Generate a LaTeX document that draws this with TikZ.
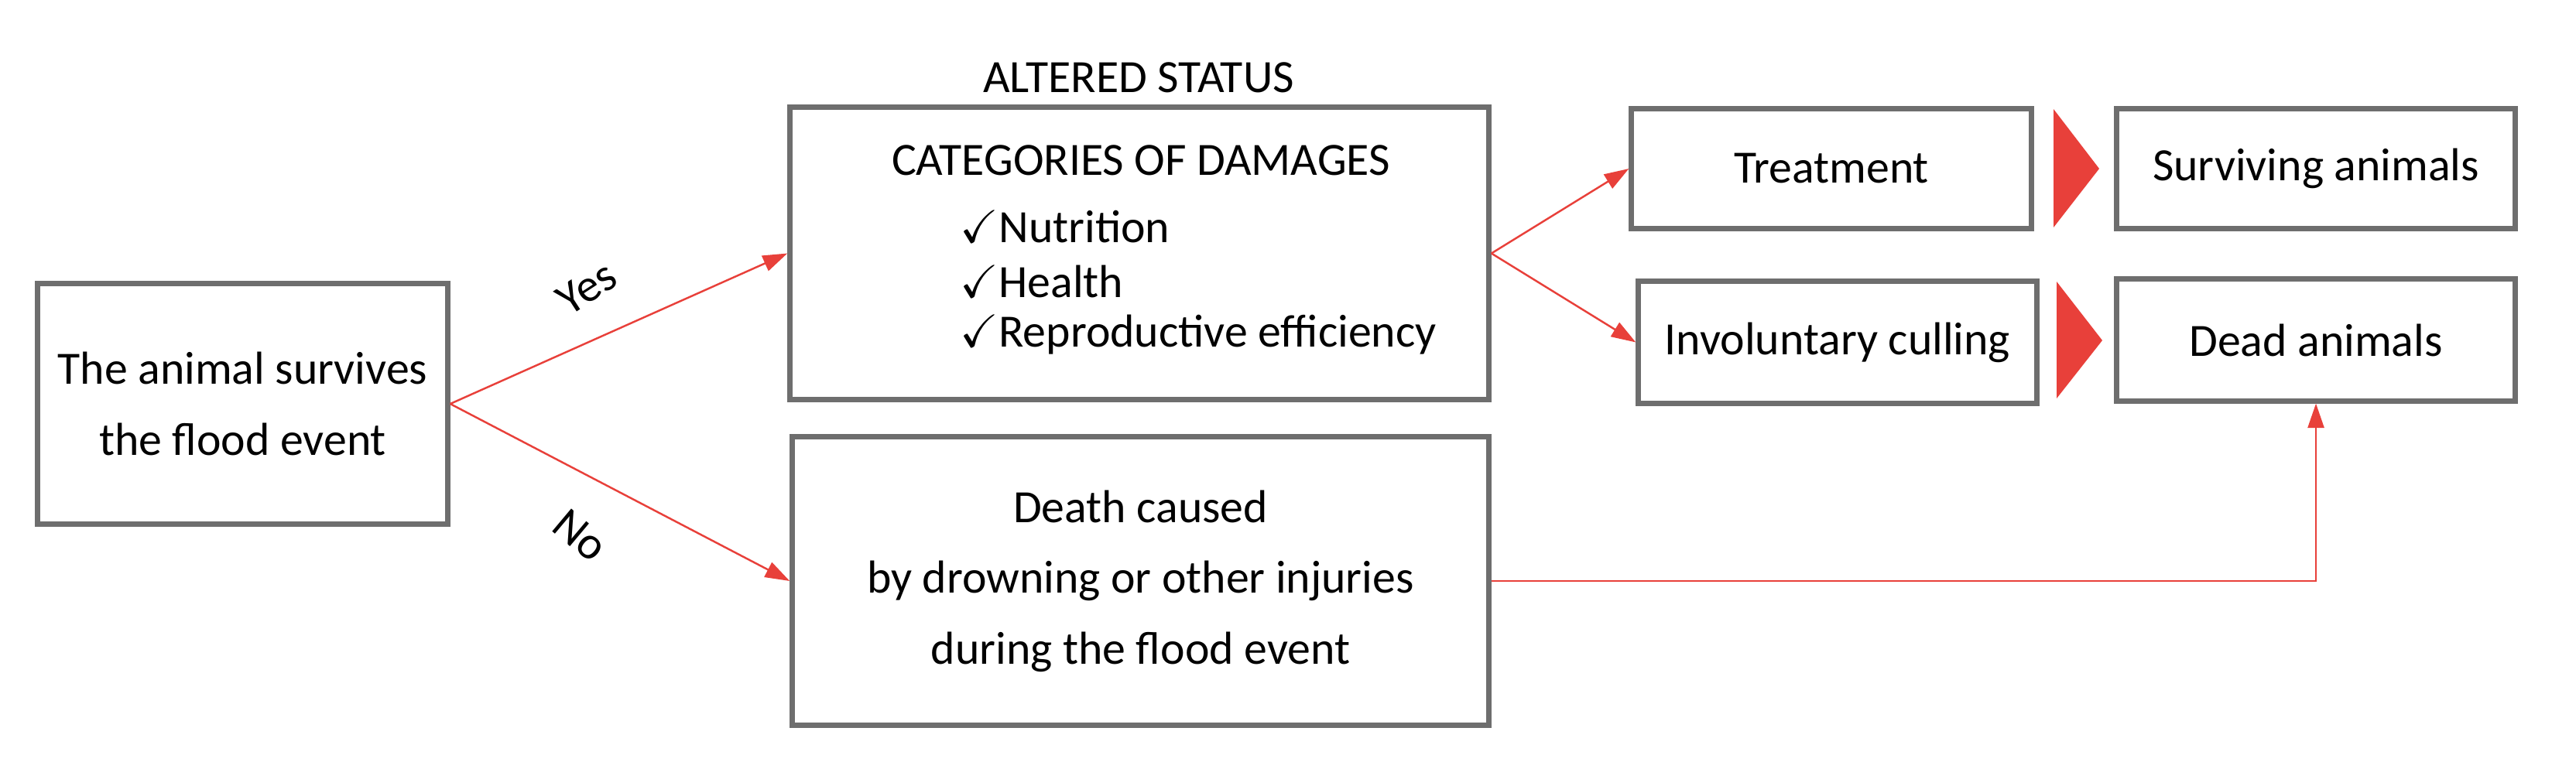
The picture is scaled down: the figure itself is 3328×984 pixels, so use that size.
\documentclass[tikz,border=0pt]{standalone}
\usepackage{fontspec}
\setmainfont{Carlito}
\usepackage{amssymb}
\usetikzlibrary{arrows.meta}
\definecolor{boxgray}{HTML}{6E6E6E}
\definecolor{ared}{HTML}{E8403A}
\begin{document}
\begin{tikzpicture}[x=0.01cm,y=-0.01cm,
  box/.style={draw=boxgray,line width=2pt,fill=white,inner sep=0pt,align=center,font=\fontsize{17}{26}\selectfont},
  txt/.style={font=\fontsize{17}{26}\selectfont,inner sep=0pt},
  arr/.style={draw=ared,line width=0.7pt,-{Triangle[length=9pt,width=6pt]}}]
\useasboundingbox (0,0) rectangle (3328,984);
\node[box,minimum width=5.29cm,minimum height=3.10cm] (left) at (313.5,522) {The animal survives\\the flood event};
\node[box,minimum width=9.02cm,minimum height=3.77cm] (alt) at (1472,327.5) {};
\node[box,minimum width=8.99cm,minimum height=3.72cm] (death) at (1473.5,751) {Death caused\\by drowning or other injuries\\during the flood event};
\node[box,minimum width=5.16cm,minimum height=1.54cm] (treat) at (2366,218) {Treatment};
\node[box,minimum width=5.14cm,minimum height=1.57cm] (cull) at (2374,442.5) {Involuntary culling};
\node[box,minimum width=5.14cm,minimum height=1.54cm] (surv) at (2992,218) {Surviving animals};
\node[box,minimum width=5.14cm,minimum height=1.57cm] (dead) at (2992,439.5) {Dead animals};
\node[txt] (title) at (1471,100) {ALTERED STATUS};
\node[txt] (cat) at (1474,207) {CATEGORIES OF DAMAGES};
\node[txt,anchor=west] (n1) at (1240,293) {$\checkmark$Nutrition};
\node[txt,anchor=west] (n2) at (1240,364) {$\checkmark$Health};
\node[txt,anchor=west] (n3) at (1240,433) {$\checkmark$Reproductive efficiency};
\node[txt,rotate=33] (yes) at (758,372) {Yes};
\node[txt,rotate=-40] (no) at (750,692) {No};
\draw[arr] (left.east) -- (alt.west);
\draw[arr] (left.east) -- (death.west);
\draw[arr] (alt.east) -- (treat.west);
\draw[arr] (alt.east) -- (cull.west);
\draw[arr] (death.east) -| (dead.south);
\fill[ared] (2653,141) -- (2712,218) -- (2653,294) -- cycle;
\fill[ared] (2657,364) -- (2716,440) -- (2657,515) -- cycle;
\end{tikzpicture}
\end{document}
